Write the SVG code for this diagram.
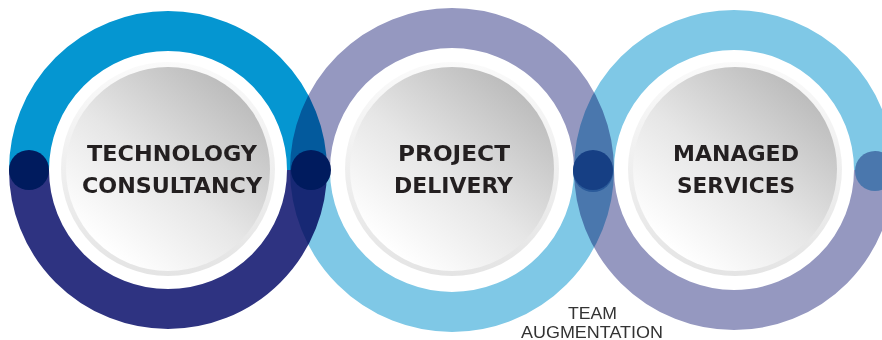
<svg xmlns="http://www.w3.org/2000/svg" width="882" height="340" viewBox="0 0 882 340">
<defs>
<linearGradient id="body" x1="0.85" y1="0.1" x2="0.2" y2="0.9">
<stop offset="0" stop-color="#BABABA"/>
<stop offset="0.55" stop-color="#E6E6E6"/>
<stop offset="1" stop-color="#FFFFFF"/>
</linearGradient>
<linearGradient id="rim" x1="0" y1="0" x2="0" y2="1">
<stop offset="0" stop-color="#FAFAFA"/>
<stop offset="1" stop-color="#E4E4E4"/>
</linearGradient>
</defs>
<style>
.ring{fill:none;stroke-width:40;mix-blend-mode:multiply}
.blue{stroke:#0596D1}
.indigo{stroke:#2E3381}
.purple{stroke:#9598C0}
.sky{stroke:#7FC8E6}
.rim{fill:url(#rim)}
.body{fill:url(#body)}
.lbl{font-family:"DejaVu Sans","Liberation Sans",sans-serif;font-weight:bold;font-size:22px;fill:#231F20;text-anchor:middle}
.note{font-family:"Liberation Sans","DejaVu Sans",sans-serif;font-size:16px;fill:#333333;text-anchor:middle}
</style>
<rect width="882" height="340" fill="#FFFFFF"/>
<g id="rings">
<path class="ring blue" d="M29,170 A139,139 0 0 1 307,170"/>
<path class="ring indigo" d="M29,170 A139,139 0 0 0 307,170"/>
<path class="ring purple" d="M310,170 A142,142 0 0 1 594,170"/>
<path class="ring sky" d="M310,170 A142,142 0 0 0 594,170"/>
<path class="ring sky" d="M594,170 A140,140 0 0 1 874,170"/>
<path class="ring purple" d="M594,170 A140,140 0 0 0 874,170"/>
</g>
<g id="connectors">
<circle cx="29" cy="170" r="20" fill="#001B5E"/>
<circle cx="311" cy="170" r="20" fill="#001B5E"/>
<circle cx="593" cy="172" r="20" fill="#2A5A9A"/>
<circle cx="593" cy="170" r="20" fill="#163F84"/>
<circle cx="875" cy="171" r="20" fill="#4A77AD"/>
</g>
<g id="technology-consultancy">
<circle class="rim" cx="168" cy="169" r="107"/>
<circle class="body" cx="168" cy="169" r="102"/>
<text class="lbl" x="172" y="161" textLength="170" lengthAdjust="spacingAndGlyphs">TECHNOLOGY</text>
<text class="lbl" x="172" y="193" textLength="180" lengthAdjust="spacingAndGlyphs">CONSULTANCY</text>
</g>
<g id="project-delivery">
<circle class="rim" cx="452" cy="169" r="107"/>
<circle class="body" cx="452" cy="169" r="102"/>
<text class="lbl" x="454" y="161" textLength="112" lengthAdjust="spacingAndGlyphs">PROJECT</text>
<text class="lbl" x="453.5" y="193" textLength="119" lengthAdjust="spacingAndGlyphs">DELIVERY</text>
</g>
<g id="managed-services">
<circle class="rim" cx="735" cy="169" r="107"/>
<circle class="body" cx="735" cy="169" r="102"/>
<text class="lbl" x="736" y="161" textLength="126" lengthAdjust="spacingAndGlyphs">MANAGED</text>
<text class="lbl" x="736" y="193" textLength="118" lengthAdjust="spacingAndGlyphs">SERVICES</text>
</g>
<g id="team-augmentation">
<text class="note" x="592.5" y="319" textLength="49" lengthAdjust="spacingAndGlyphs">TEAM</text>
<text class="note" x="592" y="338" textLength="142" lengthAdjust="spacingAndGlyphs">AUGMENTATION</text>
</g>
</svg>
